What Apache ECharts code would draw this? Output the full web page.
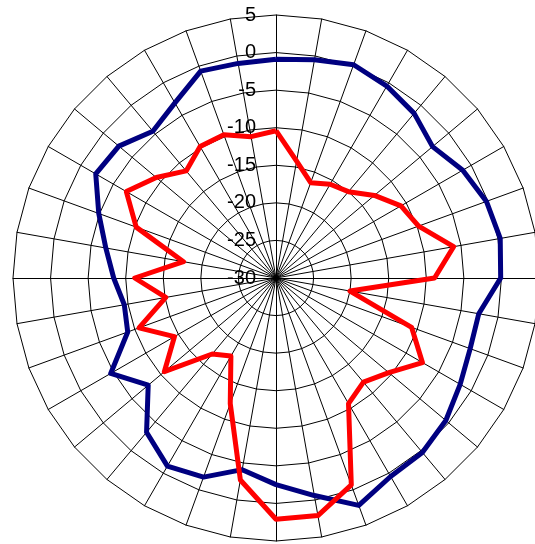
<!DOCTYPE html>
<html>
<head>
<meta charset="utf-8">
<script src="https://cdn.jsdelivr.net/npm/echarts@6/dist/echarts.min.js"></script>
<style>
html,body{margin:0;padding:0;background:#fff;}
#chart{width:535px;height:544px;}
</style>
</head>
<body>
<div id="chart"></div>
<script>
// Angles in degrees, clockwise from top
var angles = [0,10,20,30,40,50,60,70,80,90,100,110,120,130,140,150,160,170,
              180,190,200,210,220,230,240,250,260,270,280,290,300,310,320,330,340,350];
var blueValues = [-0.9,-0.5,0.2,-0.5,-1.4,-2.8,-1.3,-0.2,0.3,-0.1,-2.6,-2.5,-1.7,-0.5,0.3,0.5,2.2,-0.6,
                  -2.5,-4.1,-1.8,-1.1,-3.2,-7.8,-4.6,-9.0,-9.5,-8.4,-7.0,-4.9,-2.3,-2.7,-4.5,-3.1,-0.7,-1.0];
var redValues = [-10.4,-14.2,-16.5,-15.6,-15.0,-12.9,-10.8,-9.8,-6.0,-8.9,-20.0,-10.8,-7.5,-10.4,-11.9,-10.7,-0.7,2.1,
                 2.1,-2.7,-12.2,-18.0,-16.8,-10.6,-14.4,-10.6,-15.1,-11.2,-17.5,-10.2,-7.0,-9.2,-11.4,-9.8,-9.7,-10.9];
var radialMin = -30, radialMax = 5, radialStep = 5;

// ECharts radar places indicators counter-clockwise; reorder so data runs clockwise
function toCCW(arr){
  var out = [];
  for (var k = 0; k < arr.length; k++) out.push(arr[(arr.length - k) % arr.length]);
  return out;
}
var ccwAngles = toCCW(angles);
var indicators = ccwAngles.map(function(a, i){
  var ind = {name: String(a), min: radialMin, max: radialMax};
  if (i === 0) ind.axisLabel = {show: true};
  return ind;
});

var chart = echarts.init(document.getElementById('chart'), null, {renderer: 'canvas'});
chart.setOption({
  animation: false,
  backgroundColor: '#ffffff',
  radar: {
    center: [276, 278],
    radius: 263,
    startAngle: 90,
    splitNumber: (radialMax - radialMin) / radialStep,
    shape: 'polygon',
    indicator: indicators,
    axisName: {show: false},
    axisLine: {show: true, lineStyle: {color: '#000', width: 1}},
    splitLine: {show: true, lineStyle: {color: '#000', width: 1}},
    splitArea: {show: false},
    axisTick: {show: false},
    axisLabel: {
      show: false,
      color: '#000',
      fontSize: 20,
      fontFamily: 'Liberation Sans, Arial, sans-serif',
      margin: 20
    }
  },
  series: [{
    type: 'radar',
    symbol: 'none',
    data: [
      {name: 'blue', value: toCCW(blueValues), lineStyle: {color: '#000080', width: 5}},
      {name: 'red', value: toCCW(redValues), lineStyle: {color: '#ff0000', width: 5}}
    ]
  }]
});
</script>
</body>
</html>
